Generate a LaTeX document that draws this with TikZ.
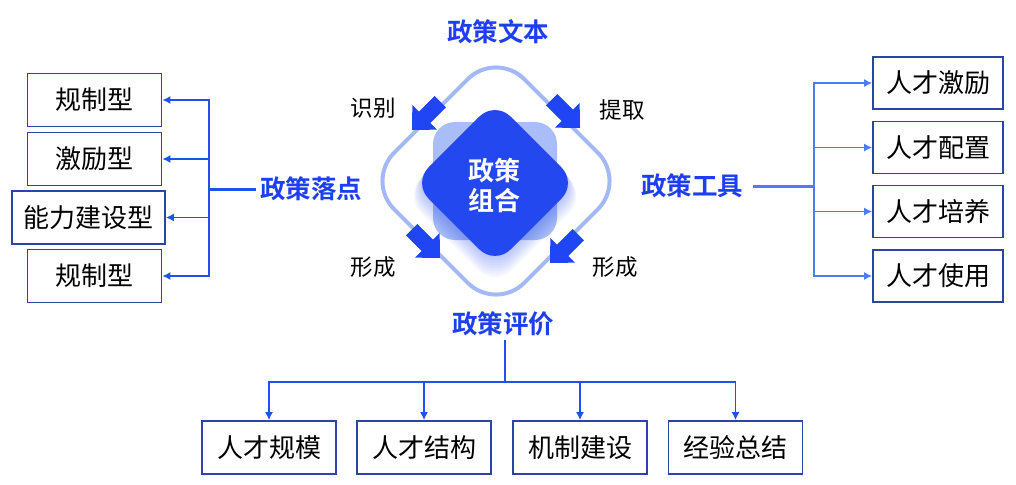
\documentclass[tikz,border=0pt]{standalone}
\usepackage{fontspec}
\newfontfamily\cjk{Noto Sans CJK SC}[BoldFont={Noto Sans CJK SC Bold}]
\usetikzlibrary{calc, arrows.meta, positioning}
\definecolor{headblue}{HTML}{1E3FF0}
\definecolor{boxblue}{HTML}{2C44A8}
\definecolor{linkblue}{HTML}{2150F0}
\definecolor{rlinkblue}{HTML}{4E7CF6}
\definecolor{ringblue}{HTML}{A3B9F7}
\definecolor{arrowblue}{HTML}{1F45F5}
\definecolor{dblue}{HTML}{2448F0}
\definecolor{lblue}{HTML}{A9BEF8}
\tikzset{>={Latex[length=8pt,width=8pt]},
  box/.style={draw=boxblue, line width=1.8pt, minimum width=134pt, minimum height=53pt,
    inner sep=0pt, font=\cjk\fontsize{26pt}{30pt}\selectfont},
  rbox/.style={box, minimum width=130pt, minimum height=52pt},
  head/.style={text=headblue, inner sep=4pt, font=\cjk\bfseries\fontsize{25.5pt}{30pt}\selectfont},
  tag/.style={inner sep=0pt, font=\cjk\fontsize{22.5pt}{27pt}\selectfont},
  link/.style={draw=linkblue, line width=1.4pt},
  rlink/.style={draw=rlinkblue, line width=1.4pt},
  stub/.style={line width=3pt}
}

\begin{document}
\begin{tikzpicture}[x=1pt, y=-1pt]
\useasboundingbox (0,0) rectangle (1016,484);

% centre
\draw[ringblue, line width=4pt, rotate around={45:(496,181)}, rounded corners=40pt]
  (404,89) rectangle (588,273);
\fill[lblue, rounded corners=22pt] (433,122) rectangle (557,240);
\foreach \k in {1,...,8}
  \fill[dblue, opacity=0.045, rotate around={45:(495,183+1.6*\k)}, rounded corners=24pt]
    (437-0.8*\k,125+1.6*\k-0.8*\k) rectangle (553+0.8*\k,241+1.6*\k+0.8*\k);
\fill[dblue, rotate around={45:(495,183)}, rounded corners=22pt] (437,125) rectangle (553,241);
\node[text=white, align=center, font=\cjk\bfseries\fontsize{26pt}{30pt}\selectfont]
  (zh) at (494,186) {政策\\组合};

\foreach \x/\y/\a in {412/130/225, 580/128/-45, 440/258/-45, 550/263/225}
  \fill[arrowblue, shift={(\x,\y)}, rotate=\a]
    (0,0) -- (-18,17.5) -- (-18,8) -- (-40,8) -- (-40,-8) -- (-18,-8) -- (-18,-17.5) -- cycle;

\node[head] (td) at (498,32) {政策文本};
\node[tag] (s1) at (373,108) {识别};
\node[tag] (s2) at (622,110) {提取};
\node[tag] (s3) at (373,267) {形成};
\node[tag] (s4) at (615,267) {形成};

% left
\node[box] (l1) at (94.5,100) {规制型};
\node[box] (l2) at (94.5,159) {激励型};
\node[box, minimum width=153pt] (l3) at (88.5,217.5) {能力建设型};
\node[box] (l4) at (94.5,276) {规制型};
\node[head] (ld) at (311,189) {政策落点};
\coordinate (lj) at (209,189);
\draw[link, stub] (ld.west) -- (lj);
\foreach \n in {l1,l2,l3,l4}
  \draw[link,->] (lj) -- (lj |- \n.east) -- (\n.east);

% right
\node[rbox] (r1) at (938,83) {人才激励};
\node[rbox] (r2) at (938,147.5) {人才配置};
\node[rbox] (r3) at (938,211.5) {人才培养};
\node[rbox] (r4) at (938,276) {人才使用};
\node[head] (rd) at (692,186) {政策工具};
\coordinate (rj) at (814,186);
\draw[rlink, stub, shorten <=6pt] (rd.east) -- (rj);
\foreach \n in {r1,r2,r3,r4}
  \draw[rlink,->] (rj) -- (rj |- \n.west) -- (\n.west);

% bottom
\node[box] (b1) at (269,447.5) {人才规模};
\node[box] (b2) at (424,447.5) {人才结构};
\node[box] (b3) at (580,447.5) {机制建设};
\node[box] (b4) at (735.5,447.5) {经验总结};
\node[head] (bd) at (503,324) {政策评价};
\coordinate (bj) at (505,382);
\draw[link] (bd.south -| bj) -- (bj);
\foreach \n in {b1,b2,b3,b4}
  \draw[link,->] (bj) -| (\n.north);
\end{tikzpicture}
\end{document}
